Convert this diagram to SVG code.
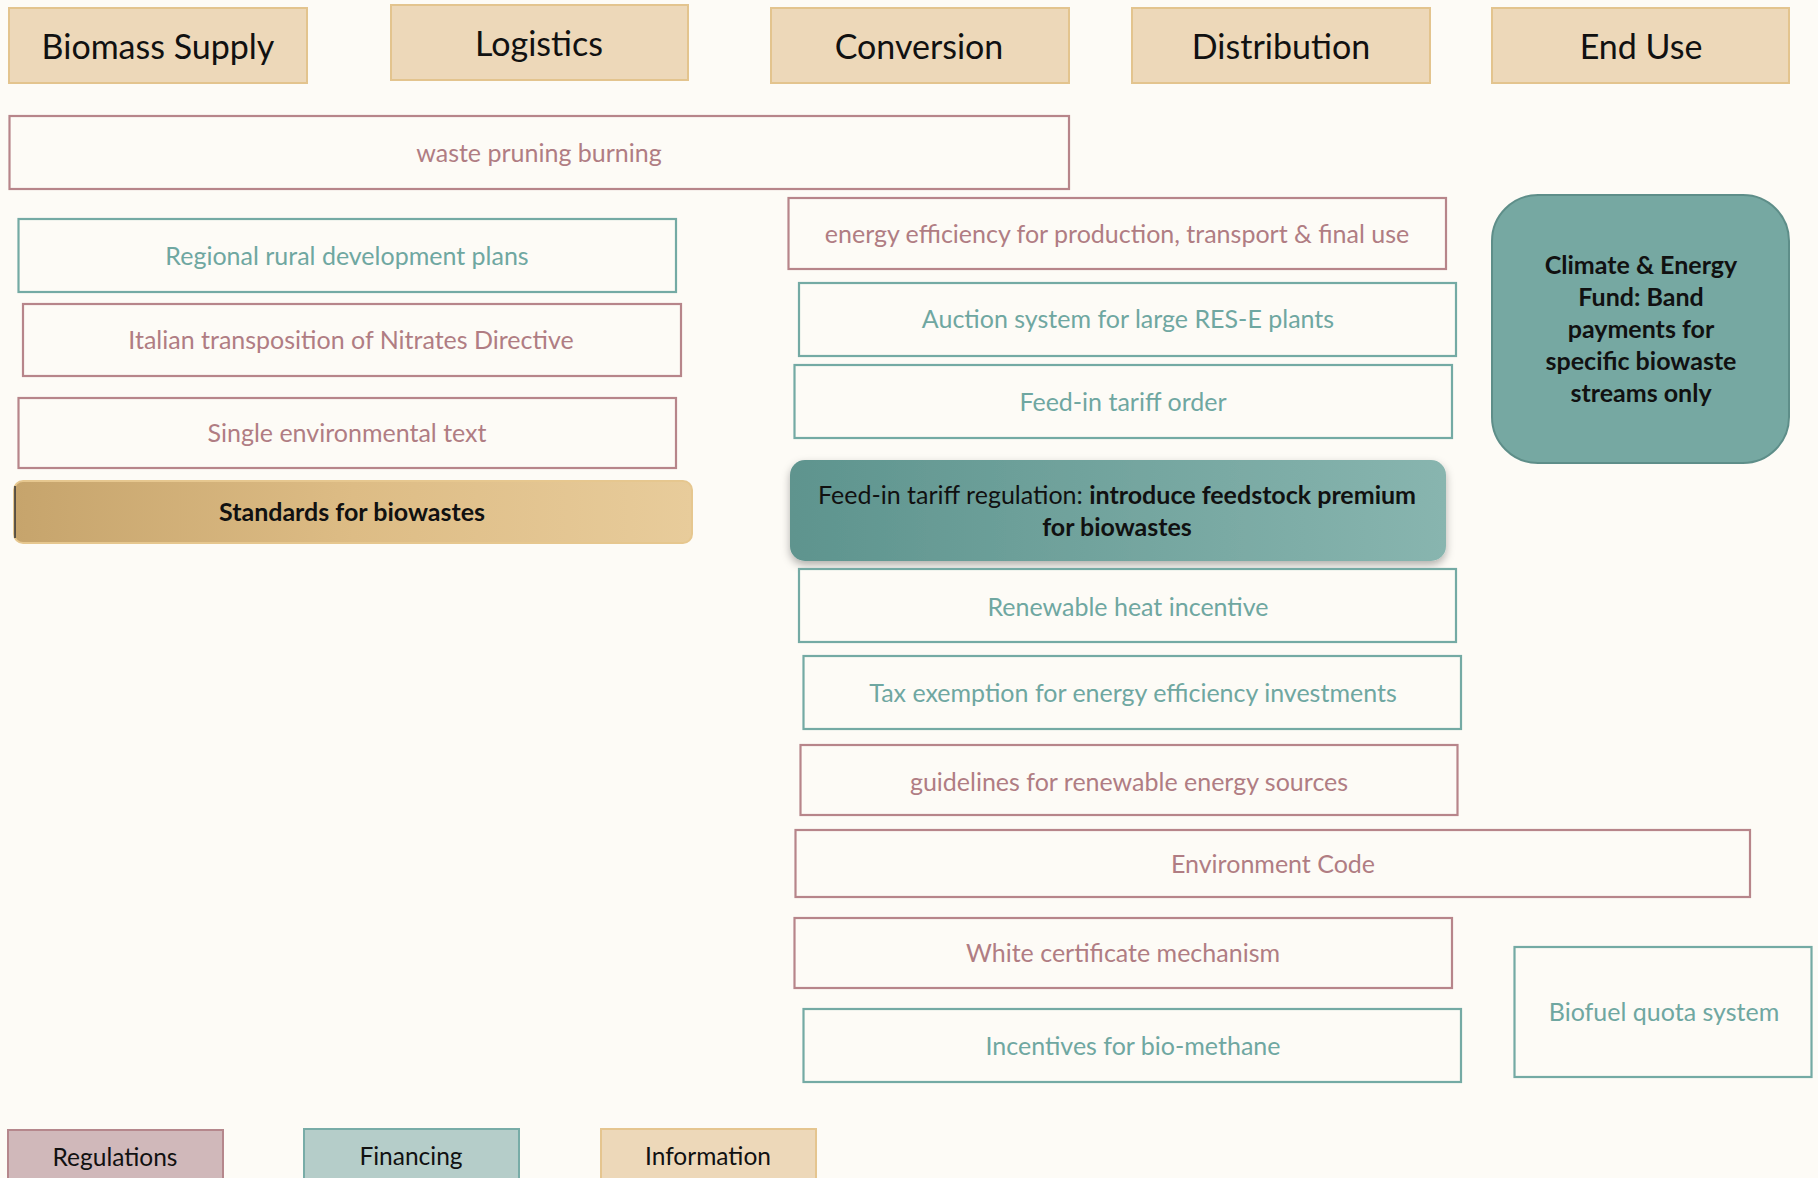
<svg xmlns="http://www.w3.org/2000/svg" width="1818" height="1178" viewBox="0 0 1818 1178">
<defs>
<style>
text{font-family:Lato,"Open Sans","Liberation Sans",sans-serif;text-anchor:middle;dominant-baseline:central}
.hdr rect{fill:#EDD8B9;stroke:#E3C48E;stroke-width:2}
.hdr text{font-size:34px;fill:#111}
.reg rect{fill:#FDFBF6;stroke:#B7858A;stroke-width:2.2}
.reg text{font-size:25px;fill:#B07D83}
.fin rect{fill:#FDFBF6;stroke:#74AAA4;stroke-width:2.2}
.fin text{font-size:25px;fill:#6FA7A1}
.bold{font-weight:bold;fill:#111}
.leg text{font-size:24.5px;fill:#111}
</style>
<linearGradient id="gold" x1="0" y1="0" x2="1" y2="0">
<stop offset="0" stop-color="#C6A46C"/><stop offset="0.5" stop-color="#DDBC85"/><stop offset="1" stop-color="#E8CC9B"/>
</linearGradient>
<linearGradient id="teal" x1="0" y1="0" x2="1" y2="0">
<stop offset="0" stop-color="#5E948E"/><stop offset="1" stop-color="#88B5AF"/>
</linearGradient>
<filter id="sh" x="-5%" y="-10%" width="110%" height="130%">
<feDropShadow dx="0" dy="4" stdDeviation="4" flood-color="#000" flood-opacity="0.3"/>
</filter>
</defs>
<rect width="1818" height="1178" fill="#FDFBF6"/>
<g id="connectors"/>
<g id="h-biomass" class="hdr"><rect x="9" y="8" width="298" height="75"/><text x="158" y="45">Biomass Supply</text></g>
<g id="h-logistics" class="hdr"><rect x="391" y="5" width="297" height="75"/><text x="539" y="42">Logistics</text></g>
<g id="h-conversion" class="hdr"><rect x="771" y="8" width="298" height="75"/><text x="919" y="45">Conversion</text></g>
<g id="h-distribution" class="hdr"><rect x="1132" y="8" width="298" height="75"/><text x="1281" y="45">Distribution</text></g>
<g id="h-enduse" class="hdr"><rect x="1492" y="8" width="297" height="75"/><text x="1641" y="45">End Use</text></g>

<g id="n-waste" class="reg"><rect x="9.5" y="116" width="1059.5" height="73"/><text x="539" y="152">waste pruning burning</text></g>
<g id="n-rural" class="fin"><rect x="18.5" y="219" width="657.5" height="73"/><text x="347" y="255">Regional rural development plans</text></g>
<g id="n-nitrates" class="reg"><rect x="23" y="304" width="658" height="72"/><text x="351" y="339">Italian transposition of Nitrates Directive</text></g>
<g id="n-single" class="reg"><rect x="18.5" y="398" width="657.5" height="70"/><text x="347" y="432">Single environmental text</text></g>
<g id="n-standards"><rect x="14" y="481" width="678" height="62" rx="9" fill="url(#gold)" stroke="#E6C78F" stroke-width="2"/><line x1="15" y1="486" x2="15" y2="538" stroke="#333" stroke-width="1.5"/><text x="352" y="511" class="bold" style="font-size:25px">Standards for biowastes</text></g>

<g id="n-effic" class="reg"><rect x="788.5" y="198" width="657.5" height="71"/><text x="1117" y="233">energy efficiency for production, transport &amp; final use</text></g>
<g id="n-auction" class="fin"><rect x="799" y="283" width="657" height="73"/><text x="1128" y="318">Auction system for large RES-E plants</text></g>
<g id="n-fitorder" class="fin"><rect x="794.5" y="365" width="657.5" height="73"/><text x="1123" y="401">Feed-in tariff order</text></g>
<g id="n-fitreg"><rect x="790" y="460" width="656" height="101" rx="15" fill="url(#teal)" filter="url(#sh)"/><text x="1117" y="494" style="font-size:25px;fill:#111">Feed-in tariff regulation: <tspan font-weight="bold">introduce feedstock premium</tspan></text><text x="1117" y="526" class="bold" style="font-size:25px">for biowastes</text></g>
<g id="n-heat" class="fin"><rect x="799" y="569" width="657" height="73"/><text x="1128" y="606">Renewable heat incentive</text></g>
<g id="n-tax" class="fin"><rect x="803.5" y="656" width="657.5" height="73"/><text x="1133" y="692">Tax exemption for energy efficiency investments</text></g>
<g id="n-guide" class="reg"><rect x="800.5" y="745" width="657" height="70"/><text x="1129" y="781">guidelines for renewable energy sources</text></g>
<g id="n-envcode" class="reg"><rect x="795.5" y="830" width="954.5" height="67"/><text x="1273" y="863">Environment Code</text></g>
<g id="n-white" class="reg"><rect x="794.5" y="918" width="657.5" height="70"/><text x="1123" y="952">White certificate mechanism</text></g>
<g id="n-methane" class="fin"><rect x="803.5" y="1009" width="657.5" height="73"/><text x="1133" y="1045">Incentives for bio-methane</text></g>
<g id="n-biofuel" class="fin"><rect x="1514.5" y="947" width="297" height="130"/><text x="1664" y="1011">Biofuel quota system</text></g>
<g id="n-climate"><rect x="1492" y="195" width="297" height="268" rx="46" fill="#76A8A2" stroke="#5E8E89" stroke-width="2"/>
<text class="bold" style="font-size:25px"><tspan x="1641" y="264">Climate &amp; Energy</tspan><tspan x="1641" y="296">Fund: Band</tspan><tspan x="1641" y="328">payments for</tspan><tspan x="1641" y="360">specific biowaste</tspan><tspan x="1641" y="392">streams only</tspan></text></g>

<g id="l-reg" class="leg"><rect x="8" y="1130" width="215" height="60" fill="#D0B8BA" stroke="#B5878C" stroke-width="2"/><text x="115" y="1156">Regulations</text></g>
<g id="l-fin" class="leg"><rect x="304" y="1129" width="215" height="60" fill="#B5CDC9" stroke="#78ACA7" stroke-width="2"/><text x="411" y="1155">Financing</text></g>
<g id="l-info" class="leg"><rect x="601" y="1129" width="215" height="60" fill="#EDD8B9" stroke="#E5C58F" stroke-width="2"/><text x="708" y="1155">Information</text></g>
</svg>
